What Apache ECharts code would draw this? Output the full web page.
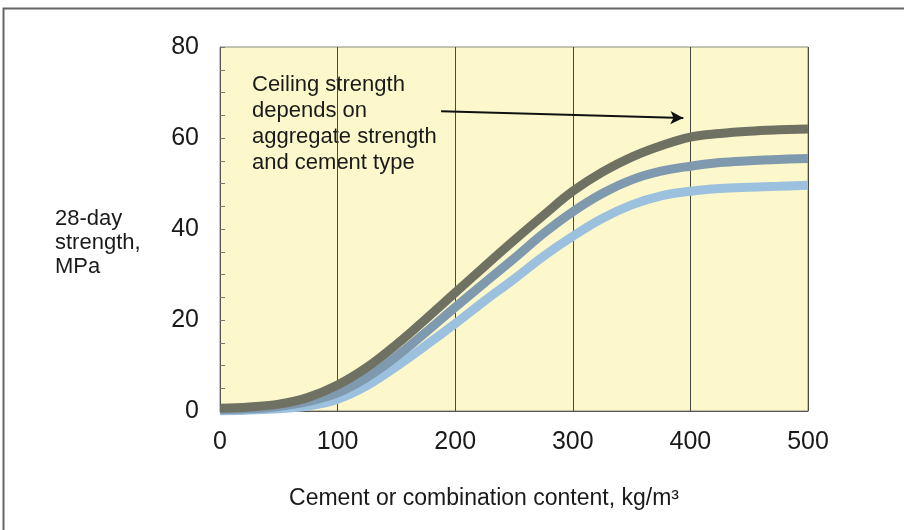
<!DOCTYPE html>
<html>
<head>
<meta charset="utf-8">
<script src="https://cdn.jsdelivr.net/npm/echarts@6/dist/echarts.min.js"></script>
<style>
html,body{margin:0;padding:0;background:#fff;}
#chart{width:904px;height:530px;}
</style>
</head>
<body>
<div id="chart"></div>
<script>
const content = [0,25,50,75,100,125,150,175,200,225,250,275,300,325,350,375,400,425,450,475,500];
const strengthHigh = [0.6,0.9,1.5,3,5.7,9.6,14.6,20.2,26,31.8,37.5,43,48.3,52.5,55.8,58.3,60.2,61,61.5,61.8,62];
const strengthMid  = [0.3,0.5,1,2.1,4,7.4,12,17.3,22.8,28.2,33.5,39,43.8,47.8,50.8,52.7,53.8,54.6,55,55.3,55.5];
const strengthLow  = [0,0.2,0.5,1.1,2.6,5.6,9.8,14.4,19.2,24.2,29,34,38.4,42.3,45.3,47.3,48.3,48.9,49.2,49.4,49.6];
const xTicks = [0,100,200,300,400,500];
const yTicks = [0,20,40,60,80];
const arrowStart = [188, 65.9];
const arrowEnd = [394, 64.4];

const font = '"Liberation Sans", Arial, sans-serif';
function pairs(ys){ return content.map((x,i)=>[x, ys[i]]); }

const chart = echarts.init(document.getElementById('chart'), null, {renderer:'canvas'});
chart.setOption({
  backgroundColor:'#ffffff',
  animation:false,
  grid:{left:220, right:96, top:47, bottom:119, show:true, backgroundColor:'#fcf8cb', borderColor:'#8a8a80', borderWidth:1},
  xAxis:{
    type:'value', min:xTicks[0], max:xTicks[xTicks.length-1], interval:100,
    axisLine:{show:true, lineStyle:{color:'#555', width:1}},
    axisTick:{show:false},
    splitLine:{show:true, lineStyle:{color:'#4a4a40', width:1}},
    axisLabel:{fontSize:25, color:'#1a1a1a', fontFamily:font, margin:19}
  },
  yAxis:{
    type:'value', min:yTicks[0], max:yTicks[yTicks.length-1], interval:20,
    axisLine:{show:true, lineStyle:{color:'#555', width:1}},
    axisTick:{show:true, inside:true, length:5, lineStyle:{color:'#777'}},
    minorTick:{show:true, splitNumber:4, length:5, lineStyle:{color:'#777'}},
    splitLine:{show:false},
    axisLabel:{fontSize:25, color:'#1a1a1a', fontFamily:font, margin:21}
  },
  graphic:[
    {type:'rect', left:1, top:6, shape:{x:0,y:0,width:1000,height:1000}, style:{fill:'none', stroke:'#666', lineWidth:2}, silent:true},
    {type:'text', left:55, top:207, style:{text:'28-day\nstrength,\nMPa', font:'22px '+font, fill:'#1a1a1a', lineHeight:24}},
    {type:'text', left:252, top:72, style:{text:'Ceiling strength\ndepends on\naggregate strength\nand cement type', font:'22px '+font, fill:'#1a1a1a', lineHeight:26}},
    {type:'text', x:484, y:499, style:{text:'Cement or combination content, kg/m³', font:'23px '+font, fill:'#1a1a1a', align:'center', verticalAlign:'middle'}}
  ],
  series:[
    {type:'line', data:pairs(strengthLow), smooth:0.4, showSymbol:false, lineStyle:{width:9, color:'#9cc1de'}, z:3},
    {type:'line', data:pairs(strengthMid), smooth:0.4, showSymbol:false, lineStyle:{width:9, color:'#7f9aae'}, z:4},
    {type:'line', data:pairs(strengthHigh), smooth:0.4, showSymbol:false, lineStyle:{width:9, color:'#6f7263'}, z:5,
     markLine:{silent:true, symbol:['none','arrow'], symbolSize:[10,13], label:{show:false},
       lineStyle:{color:'#111', width:2, type:'solid'},
       data:[[{coord:arrowStart},{coord:arrowEnd}]]}}
  ]
});
</script>
</body>
</html>
